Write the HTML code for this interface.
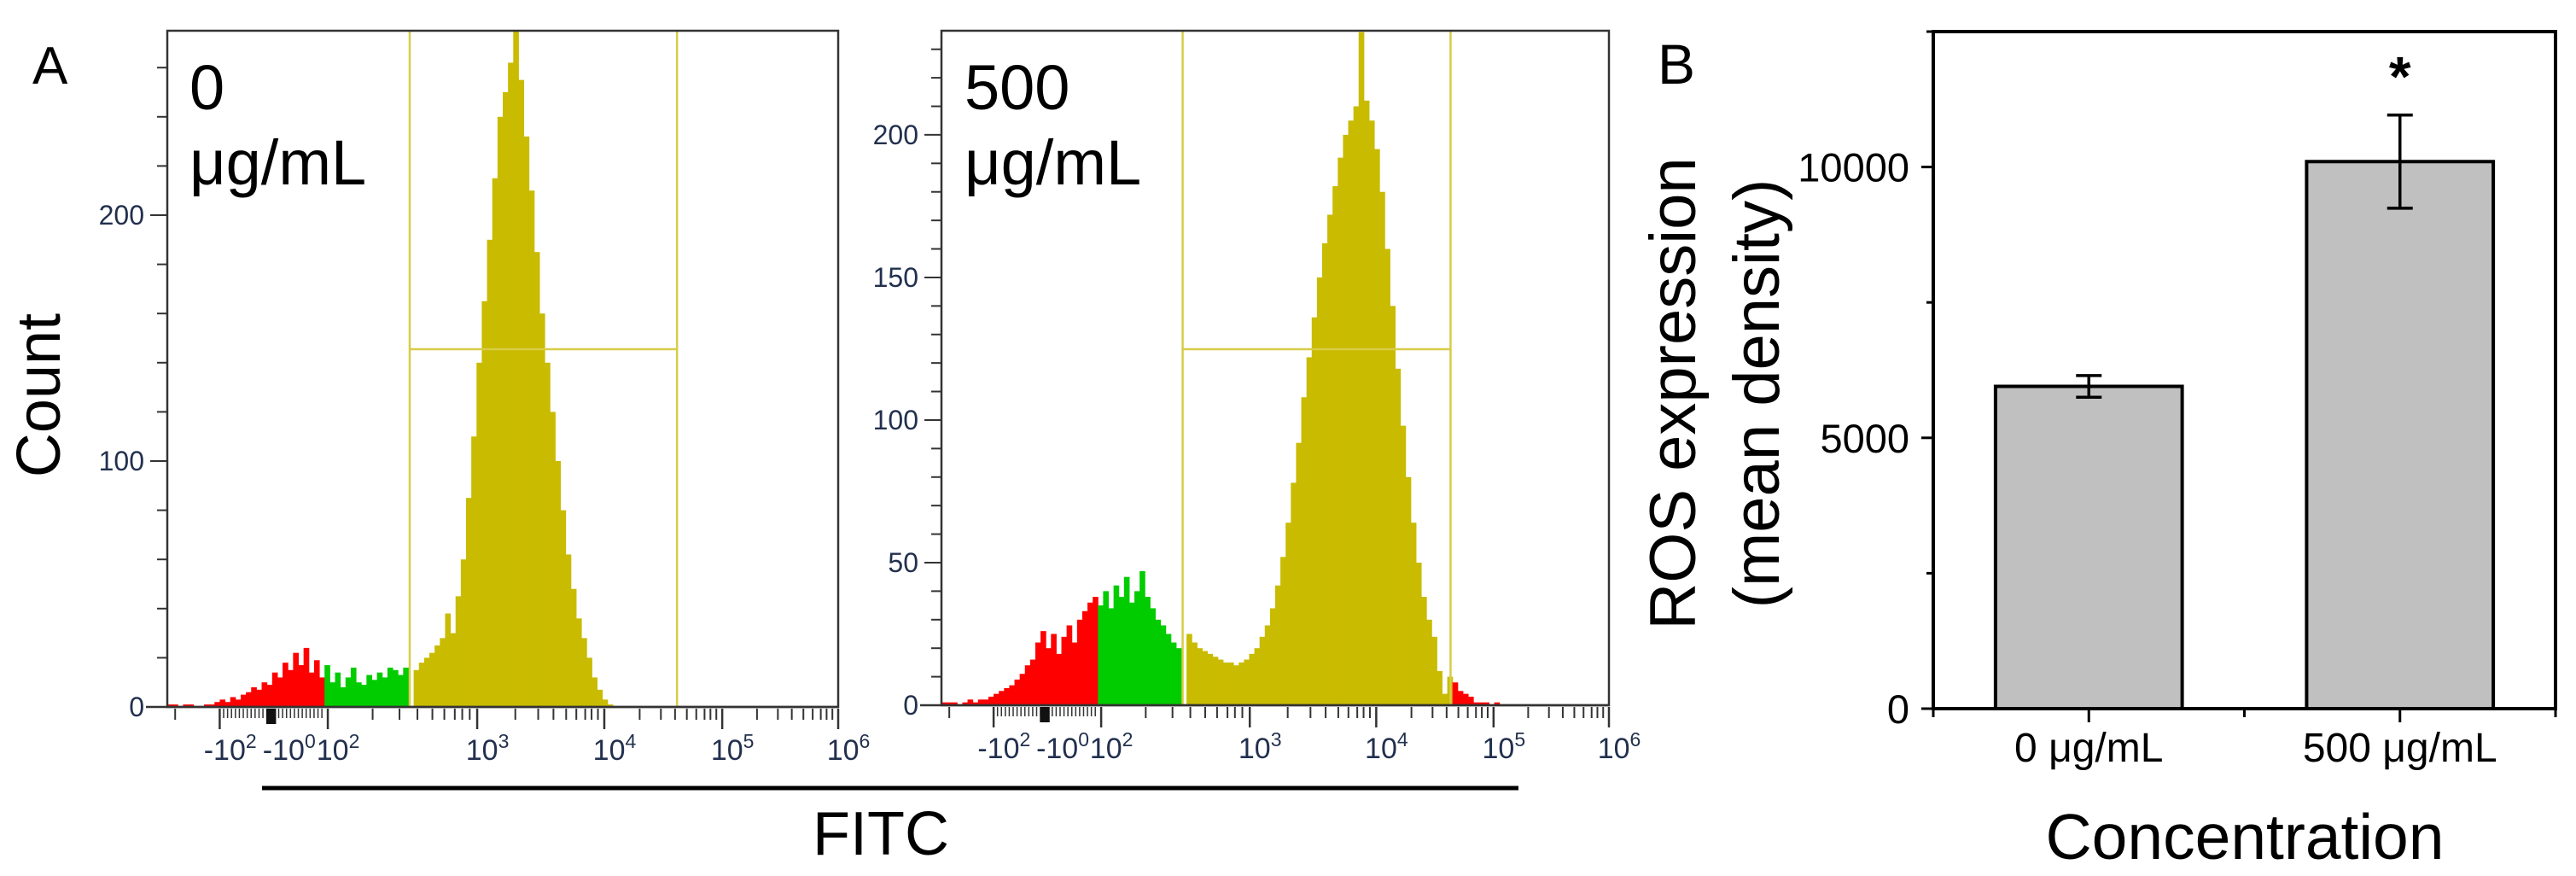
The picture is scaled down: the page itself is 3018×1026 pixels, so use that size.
<!DOCTYPE html>
<html><head><meta charset="utf-8">
<style>
html,body{margin:0;padding:0;background:#fff;}
svg{display:block;font-family:"Liberation Sans",Arial,sans-serif;}
</style></head>
<body>
<svg id="fig" width="3018" height="1026" viewBox="0 0 3018 1026" xmlns="http://www.w3.org/2000/svg">
  <text x="38" y="98" font-size="62">A</text>
  <text transform="translate(70,463) rotate(-90)" text-anchor="middle" font-size="72">Count</text>
  <line x1="307" y1="923" x2="1779" y2="923" stroke="#000" stroke-width="5"/>
  <text x="1032" y="1001" text-anchor="middle" font-size="72">FITC</text>
  <g id="flow1"></g>
  <g id="flow2"></g>
  <text x="222" y="128" font-size="74">0</text>
  <text x="222" y="216" font-size="74">μg/mL</text>
  <text x="1130" y="128" font-size="74">500</text>
  <text x="1130" y="216" font-size="74">μg/mL</text>
  <text x="1942" y="98" font-size="66">B</text>
  <text transform="translate(1986,461) rotate(-90)" text-anchor="middle" font-size="76">ROS expression</text>
  <text transform="translate(2084,461) rotate(-90)" text-anchor="middle" font-size="76">(mean density)</text>
  <text x="2630" y="1006" text-anchor="middle" font-size="75">Concentration</text>
  <g id="bars"></g>
</svg>
<script>
// ---------- Flow histogram data (bins of 8 display channels, 0..1024) ----------
const binWidth = 8;
const counts0 = [1,1,0,1,1,0,0,1,1,2,3,2,4,3,5,6,8,7,10,9,14,12,18,15,22,17,24,14,19,
  12,17,10,14,8,12,16,10,9,13,11,14,12,16,15,13,16,
  0,
  15,18,20,22,25,28,38,30,45,60,85,110,140,165,190,215,240,250,262,275,255,232,210,185,160,140,120,100,80,62,48,36,28,20,12,7,3,1,0,0];
const counts500 = [1,1,1,0,1,2,1,2,2,3,4,5,6,7,9,11,14,16,22,26,20,25,18,24,28,22,30,33,36,
  38,35,40,34,42,38,45,36,40,47,38,34,30,28,25,22,20,
  0,
  25,22,20,19,18,17,16,15,15,14,15,16,18,20,24,28,34,42,52,64,78,92,108,122,136,150,162,172,182,192,200,205,210,236,
  212,205,195,180,160,140,118,98,80,64,50,38,30,24,12,4,
  10,8,5,4,3,1,1,1,0,1];
const gates0 = [236, 368, 2000];
const gates500 = [234, 368, 778];
const yTicks0 = [0,100,200];
const yTicks500 = [0,50,100,150,200];
const xMajorCh = [245,473,667,847,1024];
const xMajorLbl = ["2","3","4","5","6"];

const NS = "http://www.w3.org/2000/svg";
function mk(tag, attrs, parent){const e=document.createElementNS(NS,tag);for(const k in attrs)e.setAttribute(k,attrs[k]);parent.appendChild(e);return e;}

function drawFlow(gid, box, counts, gates, yMax, yTicks, minorStep, hGateY, gateX){
  const g=document.getElementById(gid);
  const xs=ch=>box.x0+(ch/1024)*(box.x1-box.x0);
  const ys=c=>box.y1-(c/yMax)*(box.y1-box.y0);
  const cols=["#ff0000","#00cc00","#c9bb00","#ff0000"];
  counts.forEach((c,i)=>{
    const ch=i*binWidth; if(c<=0) return;
    let k=0; while(k<gates.length && ch>=gates[k]) k++;
    const h=Math.max(box.y0,ys(c));
    const r=mk("rect",{x:xs(ch),y:h,width:xs(ch+binWidth)-xs(ch)+0.5,height:box.y1-h,fill:cols[k]},g);
    
    
  });
  const gc="#d8cc48";
  gateX.forEach(ch=>{const l=mk("line",{x1:xs(ch),x2:xs(ch),y1:box.y0,y2:box.y1,stroke:gc,"stroke-width":2.5},g);
    });
  const hl=mk("line",{x1:xs(gateX[0]),x2:xs(gateX[1]),y1:hGateY,y2:hGateY,stroke:gc,"stroke-width":2.5},g);
  
  const b=mk("rect",{x:box.x0,y:box.y0,width:box.x1-box.x0,height:box.y1-box.y0,fill:"none",stroke:"#333","stroke-width":2.5},g);
  
  for(let v=0; v<=yMax; v+=minorStep){
    mk("line",{x1:box.x0-(v%50===0?20:12),x2:box.x0,y1:ys(v),y2:ys(v),stroke:"#333","stroke-width":2},g);
  }
  yTicks.forEach(v=>{const t=mk("text",{x:box.x0-27,y:ys(v)+11,"text-anchor":"end","font-size":32,fill:"#22304e"},g);t.textContent=v;
    });
  const ax=box.y1+2;
  mk("line",{x1:box.x0-25,x2:box.x1,y1:box.y1,y2:box.y1,stroke:"#333","stroke-width":2.5},g);
  xMajorCh.forEach((ch,i)=>{
    mk("line",{x1:xs(ch),x2:xs(ch),y1:ax,y2:ax+24,stroke:"#333","stroke-width":2.5},g);
    if(i<4){const span=xMajorCh[i+1]-ch;
      [0.30,0.48,0.60,0.70,0.78,0.85,0.90,0.95].forEach(f=>mk("line",{x1:xs(ch+span*f),x2:xs(ch+span*f),y1:ax,y2:ax+13,stroke:"#333","stroke-width":2},g));}
    const t=mk("text",{x:xs(ch)+12,y:ax+60,"text-anchor":"middle","font-size":34,fill:"#22304e"},g);
    t.textContent="10";
    const s=mk("tspan",{dy:-14,"font-size":23},t); s.textContent=xMajorLbl[i];
    
  });
  [12].forEach(ch=>mk("line",{x1:xs(ch),x2:xs(ch),y1:ax,y2:ax+13,stroke:"#333","stroke-width":2},g));
  mk("line",{x1:xs(80),x2:xs(80),y1:ax,y2:ax+24,stroke:"#333","stroke-width":2.5},g);
  for(let ch=86; ch<242; ch+=6) mk("line",{x1:xs(ch),x2:xs(ch),y1:ax,y2:ax+11,stroke:"#333","stroke-width":1.5},g);
  mk("rect",{x:xs(151),y:ax,width:xs(166)-xs(151),height:18,fill:"#111"},g);
  const n1=mk("text",{x:xs(96),y:ax+60,"text-anchor":"middle","font-size":34,fill:"#22304e"},g);n1.textContent="-10";
  mk("tspan",{dy:-14,"font-size":23},n1).textContent="2";
  const n2=mk("text",{x:xs(186),y:ax+60,"text-anchor":"middle","font-size":34,fill:"#22304e"},g);n2.textContent="-10";
  mk("tspan",{dy:-14,"font-size":23},n2).textContent="0";
}
drawFlow("flow1",{x0:196,x1:982,y0:36,y1:828},counts0,gates0,275,yTicks0,20,409,[370,778]);
drawFlow("flow2",{x0:1103,x1:1885,y0:36,y1:826},counts500,gates500,236.5,yTicks500,10,409,[370,781]);

// ---------- Bar chart ----------
const categories = ["0 μg/mL","500 μg/mL"];
const means = [5950, 10100];
const errors = [200, 860];
const barYTicks = [0,5000,10000];
(function(){
  const g=document.getElementById("bars");
  const X0=2265,X1=2994,Y0=37,Y1=830,yMax=12500;
  const ys=v=>Y1-(v/yMax)*(Y1-Y0);
  const band=(X1-X0)/categories.length;
  const cx=i=>X0+band*(i+0.5);
  const bw=band*0.6;
  categories.forEach((c,i)=>{
    const r=mk("rect",{x:cx(i)-bw/2,y:ys(means[i]),width:bw,height:Y1-ys(means[i]),fill:"#c0c0c0",stroke:"#000","stroke-width":4},g);
    
    const e=mk("g",{},g);
    
    const hi=ys(means[i]+errors[i]),lo=ys(means[i]-errors[i]);
    mk("line",{x1:cx(i),x2:cx(i),y1:hi,y2:lo,stroke:"#000","stroke-width":3.5},e);
    mk("line",{x1:cx(i)-15,x2:cx(i)+15,y1:hi,y2:hi,stroke:"#000","stroke-width":3.5},e);
    mk("line",{x1:cx(i)-15,x2:cx(i)+15,y1:lo,y2:lo,stroke:"#000","stroke-width":3.5},e);
    mk("line",{x1:cx(i),x2:cx(i),y1:Y1,y2:Y1+16,stroke:"#000","stroke-width":3},g);
    const t=mk("text",{x:cx(i),y:Y1+62,"text-anchor":"middle","font-size":48},g);t.textContent=c;
    
  });
  [X0,(X0+X1)/2,X1].forEach(x=>mk("line",{x1:x,x2:x,y1:Y1,y2:Y1+10,stroke:"#000","stroke-width":3},g));
  const f=mk("rect",{x:X0,y:Y0,width:X1-X0,height:Y1-Y0,fill:"none",stroke:"#000","stroke-width":4},g);
  
  for(let v=0; v<=yMax; v+=2500) mk("line",{x1:X0-(v%5000===0?14:8),x2:X0,y1:ys(v),y2:ys(v),stroke:"#000","stroke-width":3},g);
  barYTicks.forEach(v=>{const t=mk("text",{x:X0-28,y:ys(v)+17,"text-anchor":"end","font-size":47},g);t.textContent=v;
    });
  const s=mk("text",{x:cx(1),y:ys(means[1]+errors[1])-22,"text-anchor":"middle","font-size":66,"font-weight":"bold"},g);
  s.textContent="*";
  
})();
</script>
</body></html>
